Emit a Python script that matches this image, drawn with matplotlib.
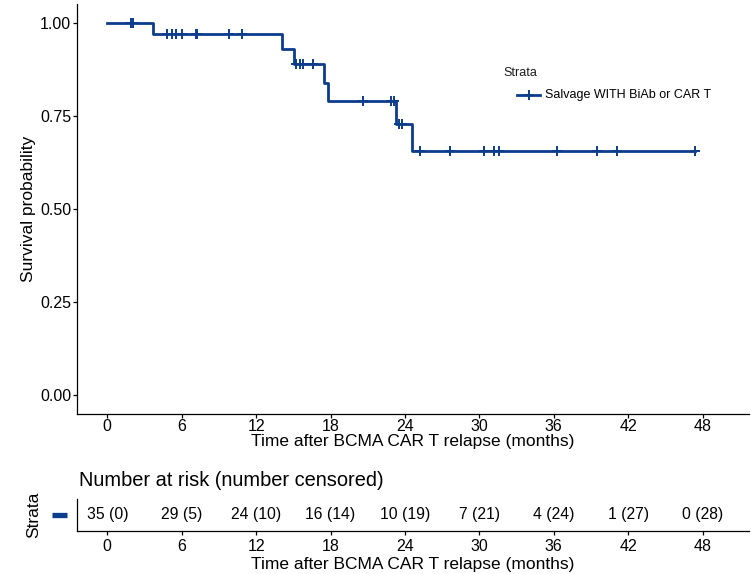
import numpy as np
import matplotlib
matplotlib.use("Agg")
import matplotlib.pyplot as plt
from matplotlib.lines import Line2D

plt.rcParams['font.family'] = ['Liberation Sans', 'DejaVu Sans']

# event (death) times and censoring times, months
event_t = np.array([3.7, 14.05, 15.05, 17.5, 17.8, 23.3, 24.6])
censor_t = np.array([1.9, 2.1, 4.8, 5.2, 5.5, 6.0, 7.15, 7.25, 9.8, 10.85,
                     15.25, 15.5, 15.75, 16.6, 20.65, 22.9, 23.1, 23.55, 23.75,
                     25.2, 27.6, 30.4, 31.2, 31.6, 36.3, 39.5, 41.1, 47.4])
group = "Salvage WITH BiAb or CAR T"

# risk table
risk_t = [0, 6, 12, 18, 24, 30, 36, 42, 48]
n_risk = [35, 29, 24, 16, 10, 7, 4, 1, 0]
n_cens = [0, 5, 10, 14, 19, 21, 24, 27, 28]

col = '#0c3c8c'

# Kaplan-Meier
all_t = np.concatenate([event_t, censor_t])
surv = []
s = 1.0
for t in event_t:
    s *= 1 - 1 / np.sum(all_t >= t)
    surv.append(s)
surv = np.array(surv)
t_end = max(all_t.max(), event_t.max())
xs = np.r_[0, event_t, t_end]
ys = np.r_[1, surv, surv[-1]]
cens_y = np.r_[1, surv][np.searchsorted(event_t, censor_t, side='right')]

W, H = 751, 574
fig = plt.figure(figsize=(W / 100, H / 100), dpi=100)

def px_box(l, t, r, b):
    return [l / W, 1 - b / H, (r - l) / W, (b - t) / H]

xlim = (-2.42, 51.75)

ax = fig.add_axes(px_box(77.3, 4.3, 749, 414))
ax.step(xs, ys, where='post', color=col, lw=2.0)
ax.plot(censor_t, cens_y, ls='none', marker='+', ms=7, mew=1.4, color=col)
ax.set_xlim(*xlim)
ax.set_ylim(-0.05, 1.05)
ax.set_xticks(risk_t)
ax.set_yticks([0, 0.25, 0.5, 0.75, 1.0])
ax.set_yticklabels(['0.00', '0.25', '0.50', '0.75', '1.00'])
ax.set_xlabel('Time after BCMA CAR T relapse (months)', fontsize=12.5, labelpad=0)
ax.set_ylabel('Survival probability', fontsize=12.5, labelpad=3)
for sp in ['top', 'right']:
    ax.spines[sp].set_visible(False)
for sp in ['left', 'bottom']:
    ax.spines[sp].set_linewidth(0.9)
ax.tick_params(labelsize=11.5, length=3, width=0.9, pad=1.5)
ax.tick_params(axis='x', pad=0.5)

# legend drawn by hand (ggplot layout: title flush left, key indented)
fig.text(503 / W, 1 - 73 / H, 'Strata', fontsize=9, ha='left', va='center',
         color='#1a1a1a')
fig.add_artist(Line2D([517 / W, 540 / W], [1 - 95 / H, 1 - 95 / H],
                      transform=fig.transFigure, color=col, lw=2.0))
fig.add_artist(Line2D([528.5 / W], [1 - 95 / H], transform=fig.transFigure,
                      color=col, marker='+', ms=7, mew=1.4, ls='none'))
fig.text(545 / W, 1 - 95 / H, group, fontsize=9, ha='left', va='center')

# risk table
rt = fig.add_axes(px_box(77.3, 499, 749, 531))
for t, n, c in zip(risk_t, n_risk, n_cens):
    rt.text(t, 0.5, f"{n} ({c})", ha='center', va='center', fontsize=11.3)
rt.set_xlim(*xlim)
rt.set_ylim(0, 1)
rt.set_xticks(risk_t)
rt.set_yticks([])
rt.set_xlabel('Time after BCMA CAR T relapse (months)', fontsize=12.5, labelpad=2)
rt.set_ylabel('Strata', fontsize=12.5, labelpad=26)
for sp in ['top', 'right']:
    rt.spines[sp].set_visible(False)
for sp in ['left', 'bottom']:
    rt.spines[sp].set_linewidth(0.9)
rt.tick_params(labelsize=11.5, length=3, width=0.9, pad=3)
rt.plot([-0.038, -0.016], [0.5, 0.5], transform=rt.transAxes, clip_on=False,
        color=col, lw=3.8, solid_capstyle='butt')
rt.set_title('Number at risk (number censored)', loc='left', fontsize=14.4,
             pad=9, x=0.003)

fig.savefig('out.png', dpi=100)
